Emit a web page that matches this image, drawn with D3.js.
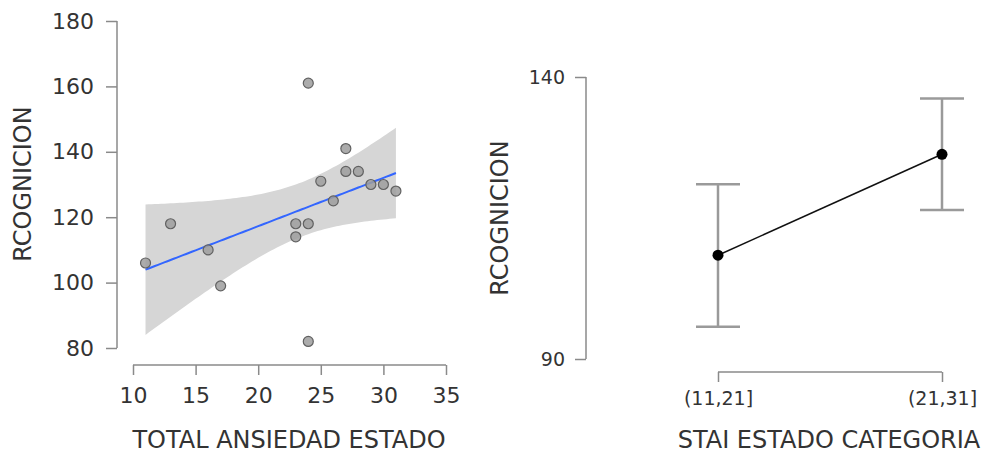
<!DOCTYPE html>
<html>
<head>
<meta charset="utf-8">
<script src="https://cdn.jsdelivr.net/npm/d3@7"></script>
<style>
  body { margin: 0; background: #fff; }
  text { font-family: "DejaVu Sans", Verdana, sans-serif; fill: #333; }
</style>
</head>
<body>
<svg width="991" height="456"></svg>
<script>
// scatter data: TOTAL ANSIEDAD ESTADO vs RCOGNICION
const anxiety = [11, 13, 16, 17, 23, 23, 24, 24, 24, 25, 26, 27, 27, 28, 29, 30, 31];
const cognicion = [106, 118, 110, 99, 118, 114, 118, 161, 82, 131, 125, 141, 134, 134, 130, 130, 128];
const xTicks = [10, 15, 20, 25, 30, 35];
const yTicks = [80, 100, 120, 140, 160, 180];

// group means with error bars
const categories = ["(11,21]", "(21,31]"];
const means = [108.4, 126.3];
const lower = [95.7, 116.4];
const upper = [121, 136.2];
const catYTicks = [90, 140];

const svg = d3.select("svg");
const axisColor = "#8a8a8a";

// ---------- left panel ----------
const x = d3.scaleLinear().domain([10, 35]).range([133, 446]);
const y = d3.scaleLinear().domain([80, 180]).range([348, 21]);

// linear fit + 95% band (t, df = 15)
const n = anxiety.length;
const mx = d3.mean(anxiety), my = d3.mean(cognicion);
let sxx = 0, sxy = 0;
anxiety.forEach((v, i) => { sxx += (v - mx) ** 2; sxy += (v - mx) * (cognicion[i] - my); });
const slope = sxy / sxx, icpt = my - slope * mx;
let sse = 0;
anxiety.forEach((v, i) => { sse += (cognicion[i] - (icpt + slope * v)) ** 2; });
const s = Math.sqrt(sse / (n - 2));
const tval = 2.131;
const xs = d3.range(0, 81).map(i => d3.min(anxiety) + i * (d3.max(anxiety) - d3.min(anxiety)) / 80);
const band = xs.map(v => {
  const fit = icpt + slope * v;
  const hw = tval * s * Math.sqrt(1 / n + (v - mx) ** 2 / sxx);
  return { x: v, fit: fit, lo: fit - hw, hi: fit + hw };
});

svg.append("path")
  .datum(band)
  .attr("fill", "#d6d6d6")
  .attr("d", d3.area().x(d => x(d.x)).y0(d => y(d.lo)).y1(d => y(d.hi)));

svg.append("path")
  .datum(band)
  .attr("fill", "none")
  .attr("stroke", "#3366ff")
  .attr("stroke-width", 2)
  .attr("d", d3.line().x(d => x(d.x)).y(d => y(d.fit)));

svg.selectAll(".pt")
  .data(anxiety)
  .enter().append("circle")
  .attr("class", "pt")
  .attr("cx", d => x(d))
  .attr("cy", (d, i) => y(cognicion[i]))
  .attr("r", 5)
  .attr("fill", "#9e9e9e")
  .attr("fill-opacity", 0.85)
  .attr("stroke", "#616161")
  .attr("stroke-width", 1.2);

// y axis
const yAxisG = svg.append("g")
  .attr("transform", "translate(117,0)")
  .call(d3.axisLeft(y).tickValues(yTicks).tickSize(11).tickPadding(12));
// x axis
const xAxisG = svg.append("g")
  .attr("transform", "translate(0,365)")
  .call(d3.axisBottom(x).tickValues(xTicks).tickSize(10).tickPadding(12));

[yAxisG, xAxisG].forEach(g => {
  g.select(".domain").attr("stroke", axisColor).attr("stroke-width", 1.5);
  g.selectAll(".tick line").attr("stroke", axisColor).attr("stroke-width", 1.5);
  g.selectAll(".tick text").attr("fill", "#333").style("font-size", "22px")
    .style("font-family", "'DejaVu Sans', sans-serif");
});
// ggplot-like: y domain without outer tick stub
yAxisG.select(".domain").attr("d", `M0,${y(80)}V${y(180)}`);
xAxisG.select(".domain").attr("d", `M${x(10)},0H${x(35)}`);

svg.append("text")
  .attr("x", 289).attr("y", 448)
  .attr("text-anchor", "middle")
  .style("font-size", "24px")
  .text("TOTAL ANSIEDAD ESTADO");

svg.append("text")
  .attr("transform", "translate(31,184) rotate(-90)")
  .attr("text-anchor", "middle")
  .style("font-size", "24px")
  .text("RCOGNICION");

// ---------- right panel ----------
const xc = d3.scalePoint().domain(categories).range([718, 942]);
const yc = d3.scaleLinear().domain([90, 140]).range([359, 77]);

const cyAxis = svg.append("g")
  .attr("transform", "translate(586,0)")
  .call(d3.axisLeft(yc).tickValues(catYTicks).tickSize(11).tickPadding(10));
const cxAxis = svg.append("g")
  .attr("transform", "translate(0,372)")
  .call(d3.axisBottom(xc).tickSize(-10).tickPadding(20));

[cyAxis, cxAxis].forEach(g => {
  g.select(".domain").attr("stroke", axisColor).attr("stroke-width", 1.5);
  g.selectAll(".tick line").attr("stroke", axisColor).attr("stroke-width", 1.5);
  g.selectAll(".tick text").attr("fill", "#333").style("font-size", "19px")
    .style("font-family", "'DejaVu Sans', sans-serif");
});
cyAxis.select(".domain").attr("d", `M0,${yc(90)}V${yc(140)}`);
cxAxis.select(".domain").attr("d", `M${xc(categories[0])},0H${xc(categories[1])}`);
// ticks on the x bracket point downward
cxAxis.selectAll(".tick line").attr("y2", 10);

const bars = svg.append("g");
categories.forEach((c, i) => {
  const cx = xc(c);
  bars.append("line")
    .attr("x1", cx).attr("x2", cx)
    .attr("y1", yc(lower[i])).attr("y2", yc(upper[i]))
    .attr("stroke", "#9a9a9a").attr("stroke-width", 2.5);
  [lower[i], upper[i]].forEach(v => {
    bars.append("line")
      .attr("x1", cx - 22).attr("x2", cx + 22)
      .attr("y1", yc(v)).attr("y2", yc(v))
      .attr("stroke", "#9a9a9a").attr("stroke-width", 2.5);
  });
});

svg.append("path")
  .datum(means)
  .attr("fill", "none")
  .attr("stroke", "#111")
  .attr("stroke-width", 1.5)
  .attr("d", d3.line().x((d, i) => xc(categories[i])).y(d => yc(d)));

svg.selectAll(".mean")
  .data(means)
  .enter().append("circle")
  .attr("class", "mean")
  .attr("cx", (d, i) => xc(categories[i]))
  .attr("cy", d => yc(d))
  .attr("r", 5.5)
  .attr("fill", "#000");

svg.append("text")
  .attr("x", 829).attr("y", 448)
  .attr("text-anchor", "middle")
  .style("font-size", "24px")
  .text("STAI ESTADO CATEGORIA");

svg.append("text")
  .attr("transform", "translate(508,218) rotate(-90)")
  .attr("text-anchor", "middle")
  .style("font-size", "24px")
  .text("RCOGNICION");
</script>
</body>
</html>
